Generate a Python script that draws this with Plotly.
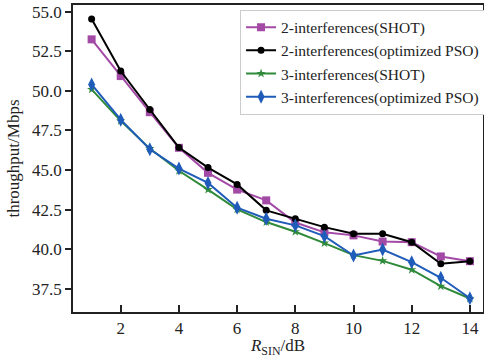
import plotly.graph_objects as go

x = [1, 2, 3, 4, 5, 6, 7, 8, 9, 10, 11, 12, 13, 14]
two_shot = [53.25, 50.93, 48.65, 46.40, 44.82, 43.76, 43.08, 41.68, 41.06, 40.87, 40.48, 40.44, 39.54, 39.24]
two_pso = [54.54, 51.25, 48.82, 46.42, 45.15, 44.09, 42.45, 41.92, 41.39, 40.97, 40.97, 40.44, 39.08, 39.24]
three_shot = [50.09, 48.10, 46.35, 44.95, 43.76, 42.51, 41.71, 41.10, 40.38, 39.62, 39.26, 38.70, 37.66, 36.88]
three_pso = [50.40, 48.18, 46.31, 45.09, 44.18, 42.62, 41.92, 41.50, 40.82, 39.60, 39.98, 39.18, 38.19, 36.90]

names = ["2-interferences(SHOT)", "2-interferences(optimized PSO)",
         "3-interferences(SHOT)", "3-interferences(optimized PSO)"]
colors = ["#a24aa6", "#000000", "#2f8a3a", "#1f5cba"]
symbols = ["square", "circle", "star", "diamond-tall"]
sizes = [8, 7, 7, 10]
series = [two_shot, two_pso, three_shot, three_pso]

xticks = [2, 4, 6, 8, 10, 12, 14]
yticks = [37.5, 40.0, 42.5, 45.0, 47.5, 50.0, 52.5, 55.0]

fig = go.Figure()
for n, c, s, sz, y in zip(names, colors, symbols, sizes, series):
    fig.add_trace(go.Scatter(
        x=x, y=y, name=n, mode="lines+markers",
        line=dict(color=c, width=2),
        marker=dict(symbol=s, size=sz, color=c, line=dict(width=0)),
    ))

font = "Liberation Serif, Times New Roman, serif"
fig.update_layout(
    width=484, height=358,
    margin=dict(l=73, r=1, t=5, b=46, autoexpand=False),
    paper_bgcolor="white", plot_bgcolor="white",
    font=dict(family=font, size=17, color="#222222"),
    showlegend=True,
    legend=dict(
        x=1.005, y=0.985, xanchor="right", yanchor="top",
        bgcolor="white", bordercolor="#cccccc", borderwidth=1,
        font=dict(family=font, size=15.5, color="#222222"),
        tracegroupgap=0, itemwidth=30,
    ),
)
fig.update_xaxes(
    range=[0.36, 14.45], tickvals=xticks, ticktext=[str(v) for v in xticks],
    ticks="inside", ticklen=7, tickwidth=1.5, tickcolor="#222222",
    showline=True, linecolor="#222222", linewidth=1.5, mirror=True,
    showgrid=False, zeroline=False, automargin=False,
    title=dict(text="<i>R</i><sub>SIN</sub>/dB", standoff=2,
               font=dict(family=font, size=17)),
    tickfont=dict(family=font, size=17),
)
fig.update_yaxes(
    range=[36.03, 55.42], tickvals=yticks, ticktext=["%.1f" % v for v in yticks],
    ticks="outside", ticklen=6, tickwidth=1.5, tickcolor="#222222",
    showline=True, linecolor="#222222", linewidth=1.5, mirror=True,
    showgrid=False, zeroline=False, automargin=False,
    title=dict(text="throughput/Mbps", standoff=8,
               font=dict(family=font, size=17)),
    tickfont=dict(family=font, size=17),
)

fig.write_html(
    "out.html",
    config={"displayModeBar": False},
    post_script="document.body.style.margin='0';document.body.style.overflow='hidden';",
)
